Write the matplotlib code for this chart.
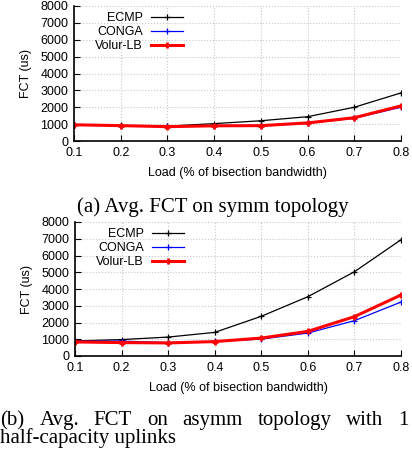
import numpy as np
import matplotlib
matplotlib.use('Agg')
import matplotlib.pyplot as plt

plt.rcParams['font.family'] = 'Liberation Sans'

loads = [0.1, 0.2, 0.3, 0.4, 0.5, 0.6, 0.7, 0.8]

# (a) symm topology
symm_ecmp  = [960, 920, 880, 1030, 1200, 1440, 2000, 2850]
symm_conga = [950, 910, 860, 900, 900, 1050, 1350, 2000]
symm_volur = [960, 910, 850, 900, 910, 1070, 1380, 2080]

# (b) asymm topology
asym_ecmp  = [900, 980, 1130, 1410, 2370, 3540, 5030, 6940]
asym_conga = [880, 890, 800, 870, 1010, 1370, 2110, 3220]
asym_volur = [840, 800, 780, 860, 1070, 1470, 2350, 3640]

yticks = [0, 1000, 2000, 3000, 4000, 5000, 6000, 7000, 8000]
W, H = 412, 457


def draw(ax, ecmp, conga, volur):
    ax.plot(loads, ecmp, color='black', lw=0.9, marker='+', ms=5, mew=0.9, label='ECMP')
    ax.plot(loads, conga, color='blue', lw=0.9, marker='+', ms=5, mew=0.9, label='CONGA')
    ax.plot(loads, volur, color='red', lw=2.2, marker='+', ms=5, mew=2.0, label='Volur-LB')
    ax.set_xlim(0.1, 0.8)
    ax.set_ylim(0, 8000)
    ax.set_xticks(loads)
    ax.set_xticklabels([f'{v:.1f}' for v in loads])
    ax.set_yticks(yticks)
    ax.grid(True, color='#c8c8c8', ls=':', lw=0.8)
    for s in ['top', 'right']:
        ax.spines[s].set_visible(False)
    ax.spines['left'].set_linewidth(1.2)
    ax.spines['bottom'].set_linewidth(1.2)
    ax.tick_params(direction='in', length=4, labelsize=9, pad=4)
    ax.set_xlabel('Load (% of bisection bandwidth)', fontsize=9, labelpad=6)
    ax.set_ylabel('FCT (us)', fontsize=9, labelpad=6)
    leg = ax.legend(loc='upper left', bbox_to_anchor=(0.05, 0.99), markerfirst=False,
                    frameon=False, fontsize=9, handlelength=2.6, handletextpad=0.6,
                    labelspacing=0.15, borderaxespad=0)
    for t in leg.get_texts():
        t.set_ha('right')


fig = plt.figure(figsize=(W / 100, H / 100), dpi=100)
ax1 = fig.add_axes([74 / W, 1 - 141 / H, 327 / W, 135 / H])
ax2 = fig.add_axes([75 / W, 1 - 356 / H, 326 / W, 134 / H])
draw(ax1, symm_ecmp, symm_conga, symm_volur)
draw(ax2, asym_ecmp, asym_conga, asym_volur)

serif = 'Liberation Serif'
cap_fs = 15
fig.text(213 / W, 1 - 212 / H, '(a) Avg. FCT on symm topology', family=serif,
         fontsize=cap_fs, ha='center', va='baseline')

# justified first line of caption (b)
words = ['(b)', 'Avg.', 'FCT', 'on', 'asymm', 'topology', 'with', '1']
fig.canvas.draw()
r = fig.canvas.get_renderer()
widths = []
for w in words:
    t = fig.text(0, 0, w, family=serif, fontsize=cap_fs)
    widths.append(t.get_window_extent(r).width)
    t.remove()
gap = (408 - sum(widths)) / (len(words) - 1)
x = 0.5
for w, wd in zip(words, widths):
    fig.text(x / W, 1 - 425 / H, w, family=serif, fontsize=cap_fs, ha='left', va='baseline')
    x += wd + gap
fig.text(0.5 / W, 1 - 443 / H, 'half-capacity uplinks', family=serif, fontsize=cap_fs,
         ha='left', va='baseline')

fig.savefig('out.png', dpi=100)
